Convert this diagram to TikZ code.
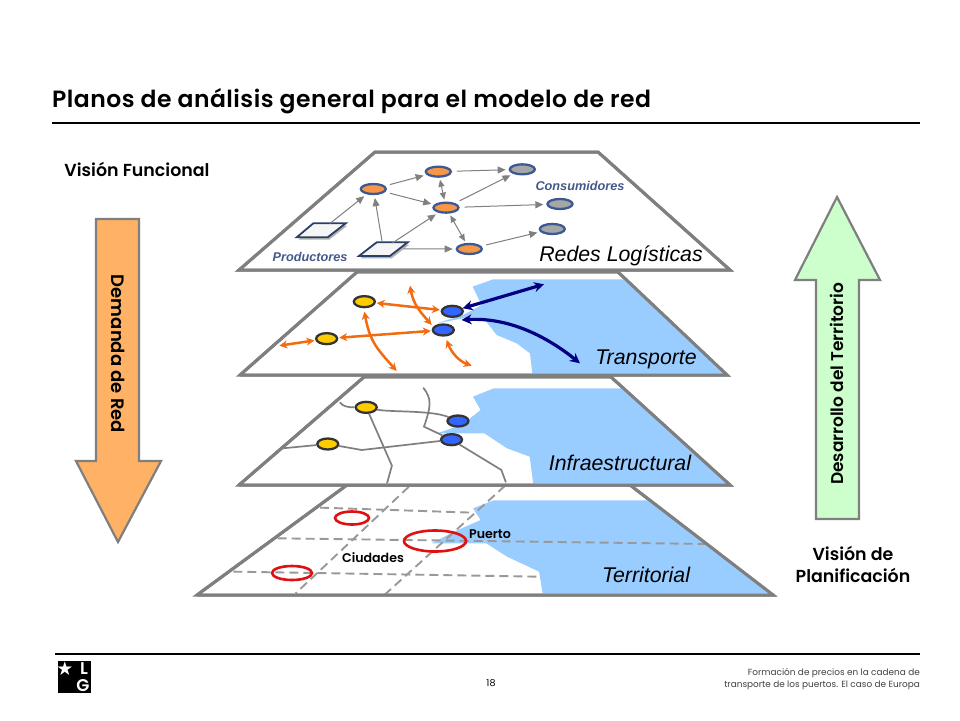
\documentclass[tikz,border=0pt]{standalone}
\usepackage{fontspec}
\setmainfont{Poppins}
\newfontfamily\arialf{Liberation Sans}
\newfontfamily\semi{Poppins SemiBold}
\newfontfamily\semiwide[LetterSpace=2]{Poppins SemiBold}
\usetikzlibrary{arrows.meta,shapes.geometric}
\definecolor{planeg}{HTML}{7F7F7F}
\definecolor{sea}{HTML}{99CCFF}
\definecolor{navyb}{HTML}{3B5A94}
\definecolor{orangef}{HTML}{F79646}
\definecolor{grayf}{HTML}{A6A6A6}
\definecolor{yel}{HTML}{FFCC00}
\definecolor{blu}{HTML}{3366FF}
\definecolor{ora}{HTML}{F46A0F}
\definecolor{navya}{HTML}{000080}
\definecolor{roadg}{HTML}{7F7F7F}
\definecolor{dashg}{HTML}{999999}
\definecolor{redc}{HTML}{E01010}
\definecolor{labb}{HTML}{44598C}
\definecolor{blockor}{HTML}{FFB265}
\definecolor{blockgr}{HTML}{CCFFCC}
\tikzset{
 x=1pt,y=-1pt,
 plane/.style={draw=planeg,line width=3pt,fill=white,line join=miter},
 water/.style={fill=sea,draw=none},
 zonea/.style={shift={(230,145)},xscale=0.3333,yscale=0.3333},
 zoneb/.style={shift={(190,375)},xscale=0.3774,yscale=0.3333},
 netnode/.style={ellipse,draw=navyb,line width=2.3pt,minimum width=25pt,minimum height=10pt,inner sep=0pt},
 prod/.style={netnode,fill=orangef},
 cons/.style={netnode,fill=grayf},
 portn/.style={ellipse,draw=black!80,line width=2.3pt,minimum width=21pt,minimum height=11pt,inner sep=0pt},
 ynode/.style={portn,fill=yel},
 bnode/.style={portn,fill=blu},
 flow/.style={draw=gray,line width=1pt,-{Triangle[length=8pt,width=7pt]},shorten >=3pt,shorten <=5pt},
 flowb/.style={draw=gray,line width=1pt,{Triangle[length=7pt,width=6pt]}-{Triangle[length=7pt,width=6pt]},shorten >=2pt,shorten <=2pt},
 oarrow/.style={draw=ora,line width=2.5pt,{Stealth[length=8pt,width=8pt]}-{Stealth[length=8pt,width=8pt]}},
 narrow/.style={draw=navya,line width=3.2pt,{Stealth[length=10pt,width=10pt]}-{Stealth[length=10pt,width=10pt]}},
 road/.style={draw=roadg,line width=1.7pt},
 dline/.style={draw=dashg,line width=1.9pt,dash pattern=on 9pt off 5pt},
 city/.style={ellipse,draw=redc,line width=2.6pt,inner sep=0pt},
 tall/.style={font=\arialf\itshape\fontsize{21.3}{22}\selectfont,text=black,inner sep=0pt},
 small/.style={font=\arialf\itshape\bfseries\fontsize{12.7}{13}\selectfont,text=labb,inner sep=0pt},
 blab/.style={font=\semi\fontsize{12.6}{13}\selectfont,inner sep=0pt},
 sidehead/.style={font=\semi\fontsize{17.4}{22}\selectfont,inner sep=0pt,align=center},
 blocklab/.style={font=\semi\selectfont,inner sep=0pt},
 block/.style={draw=planeg,line width=2.2pt,line join=miter},
 rule/.style={draw=black,line width=2pt},
 depot/.style={draw=navyb!70!black,line width=1.8pt,fill=black!4},
}
\begin{document}
\begin{tikzpicture}
\useasboundingbox (0,0) rectangle (960,720);
\fill[white] (0,0) rectangle (960,720);
% heading
\node[anchor=west,inner sep=0pt,font=\semiwide\fontsize{23.5}{26}\selectfont] (title) at (52,101) {Planos de análisis general para el modelo de red};
\coordinate (ra) at (52,123); \coordinate (rb) at (920,123);
\draw[rule] (ra) -- (rb);
\coordinate (rc) at (55,654); \coordinate (rd) at (920,654);
\draw[rule] (rc) -- (rd);
% side arrows
\node[sidehead] (vf) at (137,169) {Visión Funcional};
\filldraw[block,fill=blockor] (96,219) -- (139,219) -- (139,461) -- (161,461) -- (118,542) -- (76,461) -- (96,461) -- cycle;
\node[blocklab,rotate=-90,font=\semi\fontsize{18}{18}\selectfont] (dr) at (118,354) {Demanda de Red};
\filldraw[block,fill=blockgr] (816,519) -- (816,280) -- (795,280) -- (837,197) -- (880,280) -- (859,280) -- (859,519) -- cycle;
\node[blocklab,rotate=90,font=\semi\fontsize{17}{17}\selectfont] (dt) at (837,384) {Desarrollo del Territorio};
\node[sidehead] (vp) at (853,564) {Visión de\\Planificación};
% plane 4 Territorial
\draw[plane] (197,595) -- (347,485) -- (630,485) -- (773,595) -- cycle;
\begin{scope}
 \clip (197,595) -- (347,485) -- (630,485) -- (773,595) -- cycle;
 \begin{scope}[zoneb]
 \fill[water] (750,400) -- (805,376) -- (1800,376) -- (1800,660) -- (935,660) -- (925,590) -- (840,545) -- (785,505) -- (640,505) -- (700,470) -- (770,435) -- cycle;
 \end{scope}
\end{scope}
\begin{scope}[zoneb]
 \coordinate (d1a) at (580,335); \coordinate (d1b) at (280,655);
 \coordinate (d2a) at (835,332); \coordinate (d2b) at (515,660);
 \coordinate (d3a) at (345,398); \coordinate (d3b) at (750,413);
 \coordinate (d4a) at (232,490); \coordinate (d4b) at (1370,507);
 \coordinate (d5a) at (115,590); \coordinate (d5b) at (920,605);
 \draw[dline] (d1a) -- (d1b);
 \draw[dline] (d2a) -- (d2b);
 \draw[dline] (d3a) -- (d3b);
 \draw[dline] (d4a) -- (d4b);
 \draw[dline] (d5a) -- (d5b);
\end{scope}
\draw[plane,fill=none] (197,595) -- (347,485) (630,485) -- (773,595) -- (197,595);
\node[city,minimum width=34pt,minimum height=13pt] (c1) at (352,518) {};
\node[city,minimum width=62pt,minimum height=21pt] (c2) at (435,541) {};
\node[city,minimum width=40pt,minimum height=14pt] (c3) at (292,573) {};
\node[blab] (puerto) at (490,534) {Puerto};
\node[blab] (ciud) at (373,558) {Ciudades};
\node[tall] (terr) at (646,575) {Territorial};
% plane 3 Infraestructural
\draw[plane] (239,485) -- (364,377) -- (611,377) -- (730,485) -- cycle;
\begin{scope}
 \clip (239,485) -- (364,377) -- (611,377) -- (730,485) -- cycle;
 \begin{scope}[zoneb]
 \fill[water] (750,65) -- (805,40) -- (1800,40) -- (1800,330) -- (910,330) -- (900,245) -- (840,220) -- (780,175) -- (655,175) -- (720,150) -- (770,105) -- cycle;
 \end{scope}
\end{scope}
\begin{scope}[zoneb]
 \node[ynode] (iy1) at (467,97) {};
 \node[ynode] (iy2) at (365,207) {};
 \node[bnode] (ib1) at (710,138) {};
 \node[bnode] (ib2) at (693,194) {};
 \coordinate (r1) at (397,82); \coordinate (r2) at (522,325); \coordinate (r3) at (245,220);
 \coordinate (r4) at (618,38); \coordinate (r5) at (837,322);
 \draw[road] (r1) .. controls (405,95) and (420,97) .. (iy1);
 \draw[road] (iy1) .. controls (530,112) and (640,105) .. (ib1);
 \draw[road] (iy1) -- (535,272) -- (r2);
 \draw[road] (r3) -- (iy2);
 \draw[road] (iy2) -- (455,225) -- (ib2);
 \draw[road] (r4) .. controls (640,70) and (640,90) .. (620,155) -- (ib2);
 \draw[road] (ib2) -- (825,285) -- (r5);
\end{scope}
\draw[plane,fill=none] (239,485) -- (364,377) (611,377) -- (730,485) -- (239,485);
\node[tall] (infra) at (620,463) {Infraestructural};
% plane 2 Transporte
\draw[plane] (240,375) -- (357,272) -- (618,272) -- (727,375) -- cycle;
\begin{scope}
 \clip (240,375) -- (357,272) -- (618,272) -- (727,375) -- cycle;
 \begin{scope}[zonea]
 \fill[water] (728,425) -- (790,403) -- (1600,403) -- (1600,695) -- (908,695) -- (900,625) -- (860,595) -- (800,570) -- (765,525) -- (700,520) -- (620,535) -- (700,510) -- (755,480) -- cycle;
 \end{scope}
\end{scope}
\begin{scope}[zonea]
 \node[ynode] (ty1) at (403,470) {};
 \node[ynode] (ty2) at (290,581) {};
 \node[bnode] (tb1) at (667,499) {};
 \node[bnode] (tb2) at (640,555) {};
 \coordinate (fa) at (148,602);
 \coordinate (fb) at (540,422);
 \coordinate (fc) at (500,678);
 \coordinate (fd) at (725,662);
 \coordinate (fe) at (945,417);
 \coordinate (ff) at (1050,655);
 \draw[oarrow,shorten >=1pt,shorten <=1pt] (ty1) -- (tb1);
 \draw[oarrow,shorten >=1pt,shorten <=1pt] (ty2) -- (tb2);
 \draw[oarrow,shorten >=1pt] (fa) -- (ty2);
 \draw[oarrow] (fb) .. controls (550,480) and (575,505) .. (605,540);
 \draw[oarrow] (403,500) .. controls (420,590) and (440,610) .. (fc);
 \draw[oarrow] (650,585) .. controls (665,625) and (690,650) .. (fd);
 \draw[narrow,shorten <=1pt] (fe) -- (tb1);
 \draw[narrow] (695,525) .. controls (850,515) and (970,590) .. (ff);
\end{scope}
\draw[plane,fill=none] (240,375) -- (357,272) (618,272) -- (727,375) -- (240,375);
\node[tall] (trans) at (646,359) {Transporte};
% plane 1 Redes
\draw[plane] (239,270) -- (375,152) -- (598,152) -- (730,270) -- cycle;
\begin{scope}[zonea]
 \node[prod] (o1) at (430,132) {};
 \node[prod] (o2) at (625,80) {};
 \node[prod] (o3) at (648,188) {};
 \node[prod] (o4) at (718,312) {};
 \node[cons] (g1) at (877,73) {};
 \node[cons] (g2) at (990,177) {};
 \node[cons] (g3) at (967,252) {};
 \fill[black!30] (205,284) -- (255,242) -- (352,242) -- (298,284) -- cycle;
 \fill[black!30] (392,340) -- (445,299) -- (538,299) -- (485,340) -- cycle;
 \filldraw[depot] (200,277) -- (250,235) -- (347,235) -- (293,277) -- cycle;
 \filldraw[depot] (387,333) -- (440,292) -- (533,292) -- (480,333) -- cycle;
 \coordinate (p1) at (274,256);
 \coordinate (p2) at (460,312);
 \draw[flow,shorten <=11pt] (p1) -- (o1);
 \draw[flow,shorten <=7pt] (p2) -- (o1);
 \draw[flow,shorten <=11pt] (p2) -- (o3);
 \draw[flow,shorten <=20pt] (p2) -- (o4);
 \draw[flow] (o1) -- (o2);
 \draw[flow] (o1) -- (o3);
 \draw[flowb] (o2) -- (o3);
 \draw[flowb] (o3) -- (o4);
 \draw[flow] (o2) -- (g1);
 \draw[flow] (o3) -- (g1);
 \draw[flow] (o3) -- (g2);
 \draw[flow] (o4) -- (g3);
\end{scope}
\draw[plane,fill=none] (239,270) -- (375,152) -- (598,152) -- (730,270) -- cycle;
\node[small] (cons) at (580,186) {Consumidores};
\node[small] (prodl) at (310,257) {Productores};
\node[tall] (redes) at (621,256) {Redes Logísticas};
% footer
\fill[black] (58,661) rectangle (91,693);
\node[text=white,font=\fontsize{19}{19}\selectfont,inner sep=0pt] (st) at (65,669) {\fontspec{DejaVu Sans}★};
\node[text=white,font=\semi\fontsize{17}{17}\selectfont,inner sep=0pt] (ll) at (84,669) {L};
\node[text=white,font=\semi\fontsize{17}{17}\selectfont,inner sep=0pt] (gg) at (83,686) {G};
\node[inner sep=0pt,font=\fontsize{9.5}{10}\selectfont] (page) at (491,683) {18};
\node[anchor=east,inner sep=0pt,align=right,font=\fontsize{8.9}{11.5}\selectfont,text=black!75] (foot) at (920,679) {Formación  de precios en la cadena de\\transporte de los puertos. El caso de Europa};
\end{tikzpicture}
\end{document}
